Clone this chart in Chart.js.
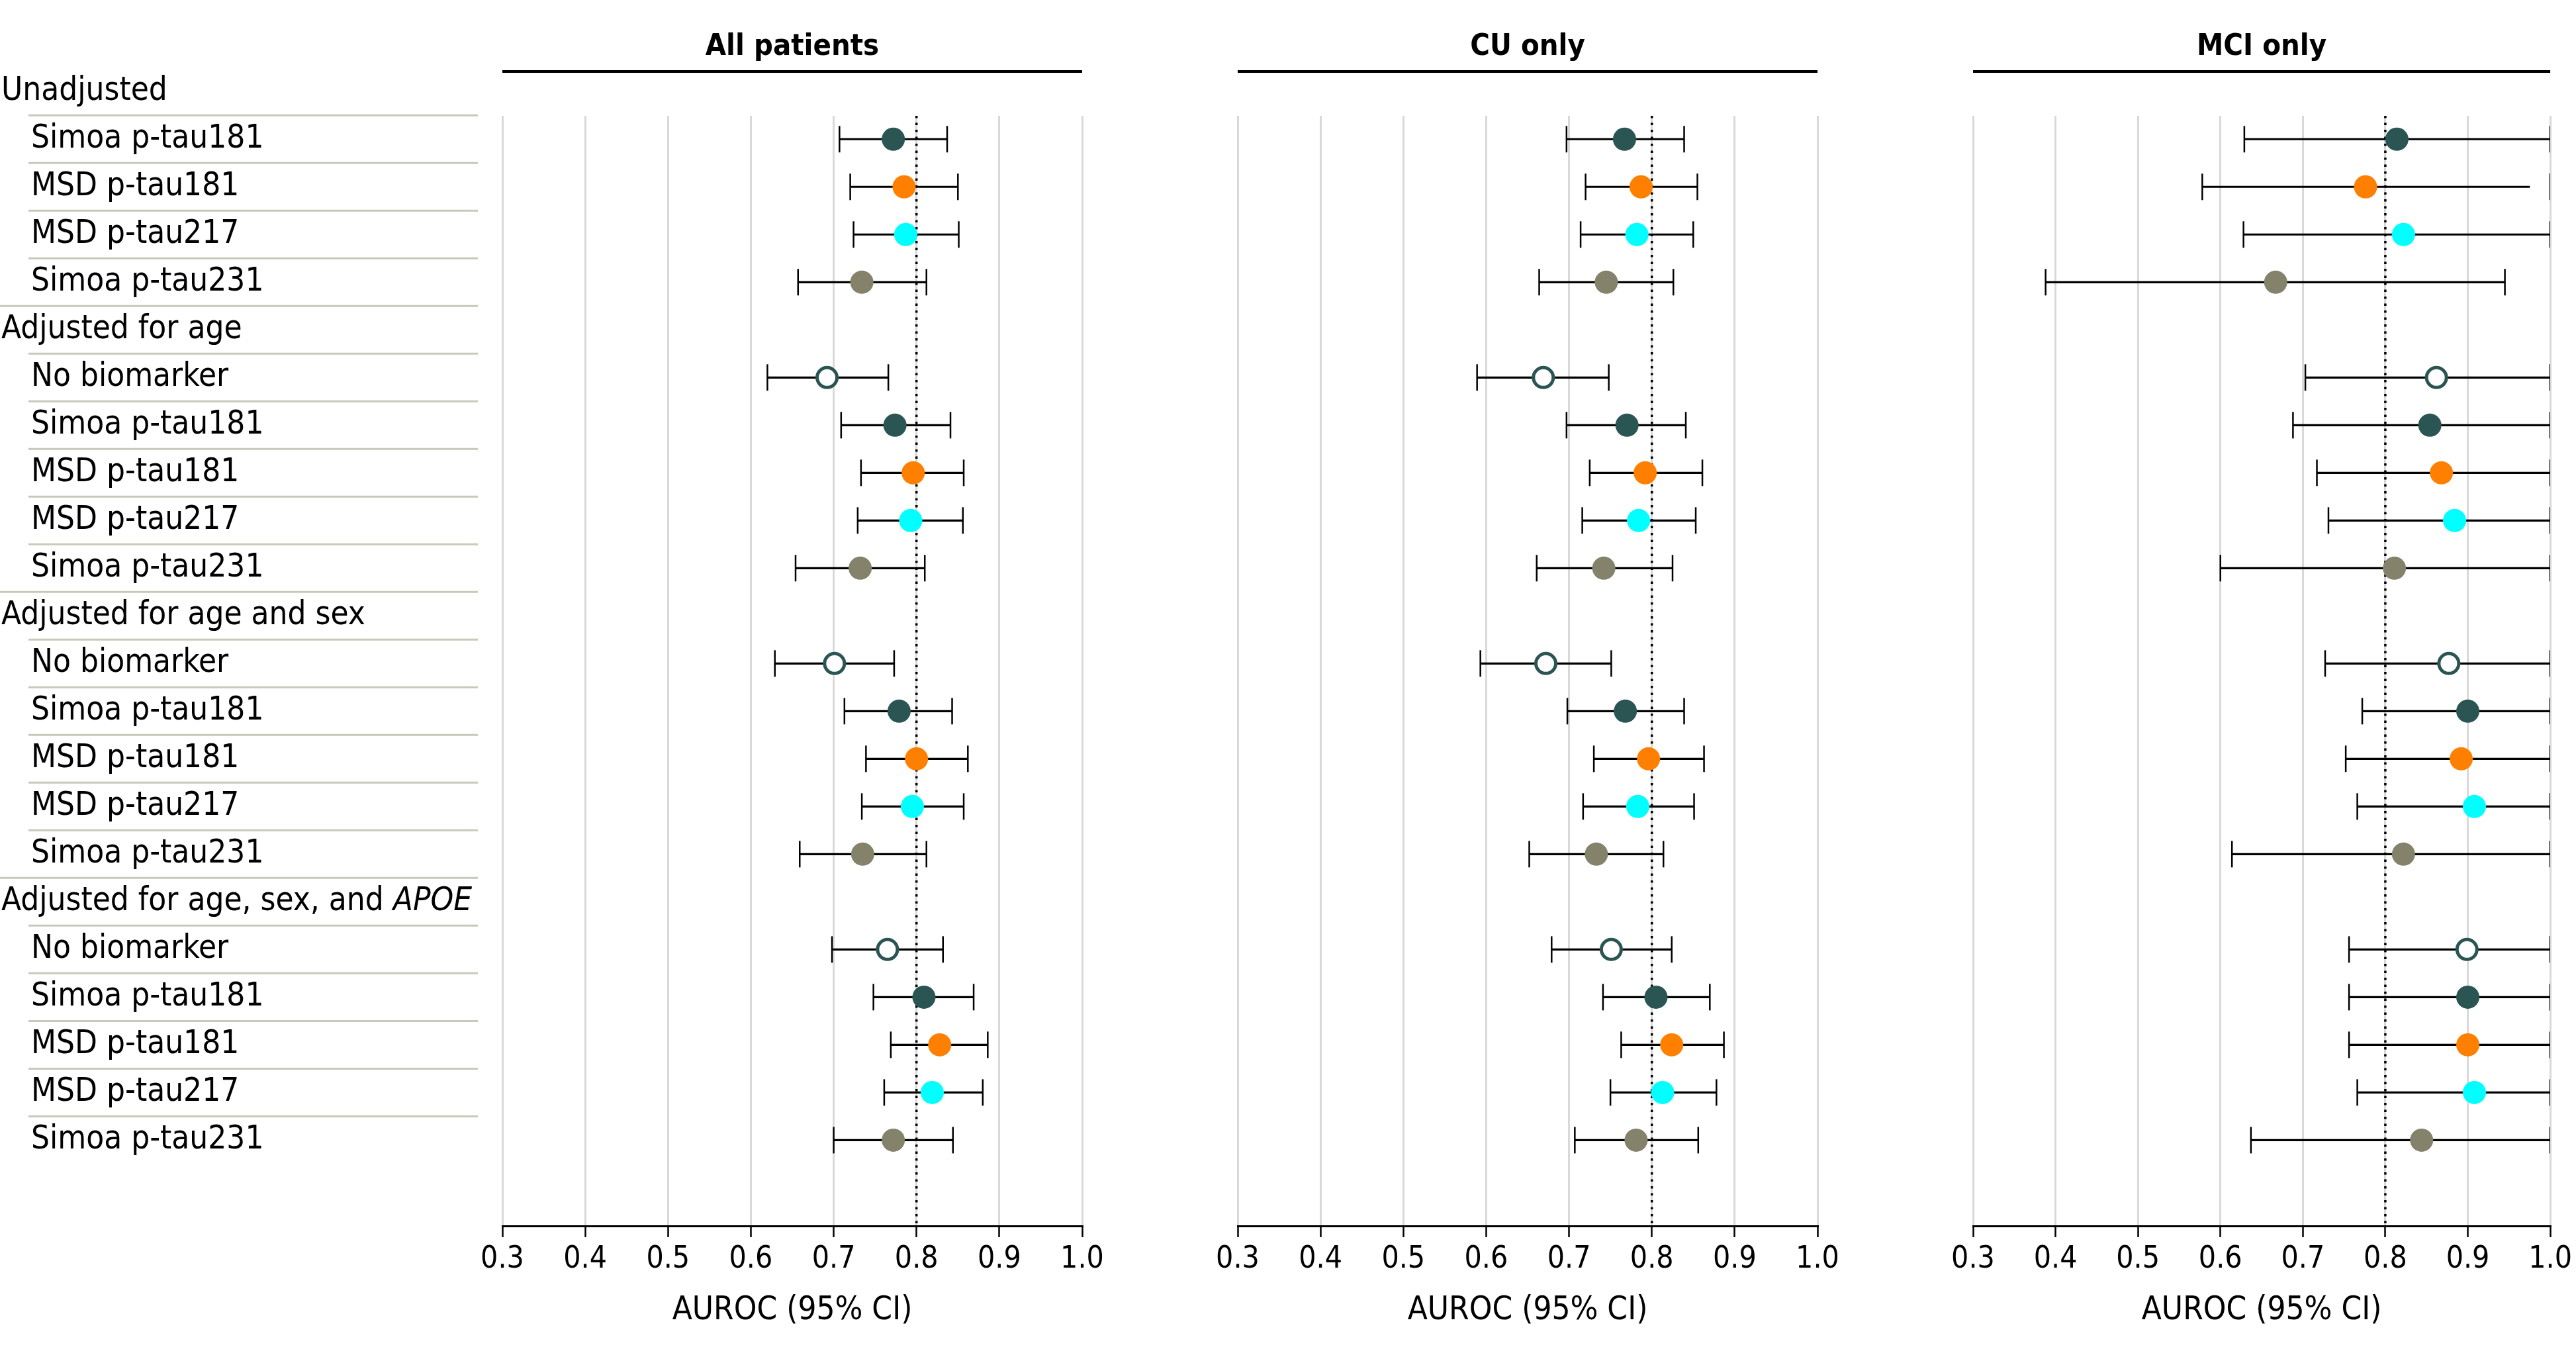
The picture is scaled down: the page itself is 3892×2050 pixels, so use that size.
<!DOCTYPE html>
<html>
<head>
<meta charset="utf-8">
<script src="https://cdn.jsdelivr.net/npm/chart.js@4.4.1/dist/chart.umd.min.js"></script>
<style>
html,body{margin:0;padding:0;background:#fff;width:3892px;height:2050px;overflow:hidden}
canvas{position:absolute;top:0}
</style>
</head>
<body>
<canvas id="c1" width="1700" height="2050" style="left:0px;width:1700px;height:2050px"></canvas>
<canvas id="c2" width="1050" height="2050" style="left:1760px;width:1050px;height:2050px"></canvas>
<canvas id="c3" width="1012" height="2050" style="left:2880px;width:1012px;height:2050px"></canvas>
<script>
// ---------- data ----------
const panelTitles = ['All patients', 'CU only', 'MCI only'];
const rowLabels = [
  'Unadjusted', 'Simoa p-tau181', 'MSD p-tau181', 'MSD p-tau217', 'Simoa p-tau231',
  'Adjusted for age', 'No biomarker', 'Simoa p-tau181', 'MSD p-tau181', 'MSD p-tau217', 'Simoa p-tau231',
  'Adjusted for age and sex', 'No biomarker', 'Simoa p-tau181', 'MSD p-tau181', 'MSD p-tau217', 'Simoa p-tau231',
  'Adjusted for age, sex, and |APOE', 'No biomarker', 'Simoa p-tau181', 'MSD p-tau181', 'MSD p-tau217', 'Simoa p-tau231'
];
const groupRows = [0, 5, 11, 17];
const markerRows = [1,2,3,4, 6,7,8,9,10, 12,13,14,15,16, 18,19,20,21,22];
const markerKinds = ['s181','m181','m217','s231', 'none','s181','m181','m217','s231',
                     'none','s181','m181','m217','s231', 'none','s181','m181','m217','s231'];
const xTicks = [0.3, 0.4, 0.5, 0.6, 0.7, 0.8, 0.9, 1.0];
const refValue = 0.8;

const allAuc = [0.772,0.785,0.787,0.734, 0.692,0.774,0.796,0.793,0.732, 0.701,0.779,0.800,0.795,0.735, 0.765,0.809,0.828,0.819,0.772];
const allLo  = [0.707,0.720,0.724,0.657, 0.620,0.709,0.733,0.729,0.654, 0.629,0.713,0.739,0.734,0.659, 0.698,0.748,0.769,0.761,0.700];
const allHi  = [0.837,0.850,0.851,0.812, 0.766,0.841,0.857,0.856,0.810, 0.773,0.843,0.862,0.857,0.812, 0.832,0.869,0.886,0.880,0.844];

const cuAuc = [0.767,0.787,0.782,0.745, 0.669,0.770,0.792,0.784,0.742, 0.672,0.768,0.796,0.783,0.733, 0.751,0.805,0.824,0.813,0.781];
const cuLo  = [0.697,0.720,0.714,0.664, 0.589,0.697,0.725,0.716,0.661, 0.593,0.698,0.730,0.717,0.652, 0.679,0.741,0.763,0.750,0.707];
const cuHi  = [0.839,0.855,0.850,0.826, 0.748,0.841,0.861,0.853,0.825, 0.751,0.839,0.863,0.851,0.814, 0.824,0.870,0.887,0.878,0.856];

const mciAuc = [0.814,0.776,0.822,0.667, 0.862,0.854,0.868,0.884,0.811, 0.877,0.900,0.892,0.908,0.822, 0.899,0.900,0.900,0.908,0.844];
const mciLo  = [0.629,0.578,0.628,0.388, 0.703,0.688,0.717,0.731,0.600, 0.727,0.772,0.752,0.766,0.614, 0.756,0.756,0.756,0.766,0.637];
const mciHi  = [1.000,1.000,1.000,0.945, 1.000,1.000,1.000,1.000,1.000, 1.000,1.000,1.000,1.000,1.000, 1.000,1.000,1.000,1.000,1.000];
// the drawn whisker stops short of its cap in one MCI row of the original figure
const mciWhiskerHi = [1.000,0.975,1.000,0.945, 1.000,1.000,1.000,1.000,1.000, 1.000,1.000,1.000,1.000,1.000, 1.000,1.000,1.000,1.000,1.000];

// ---------- styles ----------
const FONT = "'DejaVu Sans Condensed', 'DejaVu Sans', sans-serif";
const kindFill   = {s181:'#2b5553', m181:'#ff8000', m217:'#00ffff', s231:'#84826b', none:'#ffffff'};
const kindBorder = {s181:'#2b5553', m181:'#ff8000', m217:'#00ffff', s231:'#84826b', none:'#2b5553'};
const Y_MIN = 0.51, Y_MAX = 23.80;

function panelDecor(title) {
  return {
    id: 'decor',
    afterDraw(chart) {
      const ctx = chart.ctx, a = chart.chartArea;
      ctx.save();
      ctx.fillStyle = '#000';
      ctx.font = 'bold 45px ' + FONT;
      ctx.textAlign = 'center';
      ctx.textBaseline = 'middle';
      ctx.fillText(title, (a.left + a.right) / 2, a.top - 104);
      ctx.strokeStyle = '#000';
      ctx.lineWidth = 4;
      ctx.beginPath();
      ctx.moveTo(a.left, a.top - 67);
      ctx.lineTo(a.right, a.top - 67);
      ctx.stroke();
      ctx.restore();
    }
  };
}

const rowLabelPlugin = {
  id: 'rowLabels',
  afterDraw(chart) {
    const ctx = chart.ctx, y = chart.scales.y;
    ctx.save();
    ctx.strokeStyle = '#c6cab8';
    ctx.lineWidth = 3;
    for (let r = 0; r < rowLabels.length - 1; r++) {
      const py = y.getPixelForValue(r + 0.5);
      const x0 = groupRows.includes(r + 1) ? 0 : 43;
      ctx.beginPath();
      ctx.moveTo(x0, py);
      ctx.lineTo(722, py);
      ctx.stroke();
    }
    ctx.fillStyle = '#000';
    ctx.textBaseline = 'middle';
    ctx.textAlign = 'left';
    rowLabels.forEach((lab, r) => {
      const py = y.getPixelForValue(r);
      const isGroup = groupRows.includes(r);
      const x = isGroup ? 2 : 47;
      const parts = lab.split('|');
      ctx.font = '49px ' + FONT;
      ctx.fillText(parts[0], x, py);
      if (parts[1]) {
        const w = ctx.measureText(parts[0]).width;
        ctx.font = 'italic 49px ' + FONT;
        ctx.fillText(parts[1], x + w, py);
      }
    });
    ctx.restore();
  }
};

function makeChart(id, title, auc, lo, hi, whiskerHi, padL, padR, withLabels) {
  const whiskers = markerRows.map((r, i) => ({y: r, x: [lo[i], whiskerHi[i]]}));
  const caps = [];
  markerRows.forEach((r, i) => { caps.push({x: lo[i], y: r}); caps.push({x: hi[i], y: r}); });
  const pts = markerRows.map((r, i) => ({x: auc[i], y: r}));
  const plugins = [panelDecor(title)];
  if (withLabels) plugins.push(rowLabelPlugin);
  return new Chart(document.getElementById(id), {
    type: 'scatter',
    data: {
      datasets: [
        {
          type: 'scatter', order: 3, showLine: true,
          data: [{x: refValue, y: Y_MIN}, {x: refValue, y: Y_MAX}],
          borderColor: '#000', borderWidth: 3.5, borderDash: [3.5, 7], borderCapStyle: 'butt',
          pointRadius: 0, fill: false
        },
        {
          type: 'bar', order: 2, indexAxis: 'y',
          data: whiskers,
          backgroundColor: '#000', borderWidth: 0, barThickness: 2.5, grouped: false
        },
        {
          type: 'scatter', order: 1,
          data: caps,
          pointStyle: 'line', rotation: 90, pointRadius: 20,
          borderColor: '#000', pointBorderColor: '#000', pointBorderWidth: 2.5
        },
        {
          type: 'scatter', order: 0,
          data: pts,
          pointStyle: 'circle',
          pointRadius: markerKinds.map(k => k === 'none' ? 15 : 17.5),
          pointBackgroundColor: markerKinds.map(k => kindFill[k]),
          pointBorderColor: markerKinds.map(k => kindBorder[k]),
          pointBorderWidth: markerKinds.map(k => k === 'none' ? 5 : 0)
        }
      ]
    },
    options: {
      responsive: false,
      animation: false,
      devicePixelRatio: 1,
      layout: {padding: {left: padL, right: padR, top: 175, bottom: 40}},
      plugins: {legend: {display: false}, tooltip: {enabled: false}, title: {display: false}},
      scales: {
        x: {
          type: 'linear', min: 0.3, max: 1.0, offset: false,
          afterBuildTicks(scale) { scale.ticks = xTicks.map(v => ({value: v})); },
          ticks: {
            color: '#000', padding: 6,
            font: {family: FONT, size: 46},
            callback: v => Number(v).toFixed(1)
          },
          grid: {color: '#d9d9d9', lineWidth: 3, tickColor: '#000', tickLength: 17, tickWidth: 2.5, offset: false},
          border: {display: true, color: '#000', width: 3},
          title: {display: true, text: 'AUROC (95% CI)', color: '#000',
                  font: {family: FONT, size: 49}, padding: {top: 15, bottom: 0}}
        },
        y: {
          type: 'linear', reverse: true, min: Y_MIN, max: Y_MAX, offset: false,
          display: true,
          ticks: {display: false},
          grid: {display: false, drawTicks: false, offset: false},
          border: {display: false},
          afterFit(scale) { scale.width = 0; }
        }
      }
    },
    plugins: plugins
  });
}

makeChart('c1', panelTitles[0], allAuc, allLo, allHi, allHi, 759, 65, true);
makeChart('c2', panelTitles[1], cuAuc, cuLo, cuHi, cuHi, 110, 64, false);
makeChart('c3', panelTitles[2], mciAuc, mciLo, mciHi, mciWhiskerHi, 101, 35, false);
</script>
</body>
</html>
